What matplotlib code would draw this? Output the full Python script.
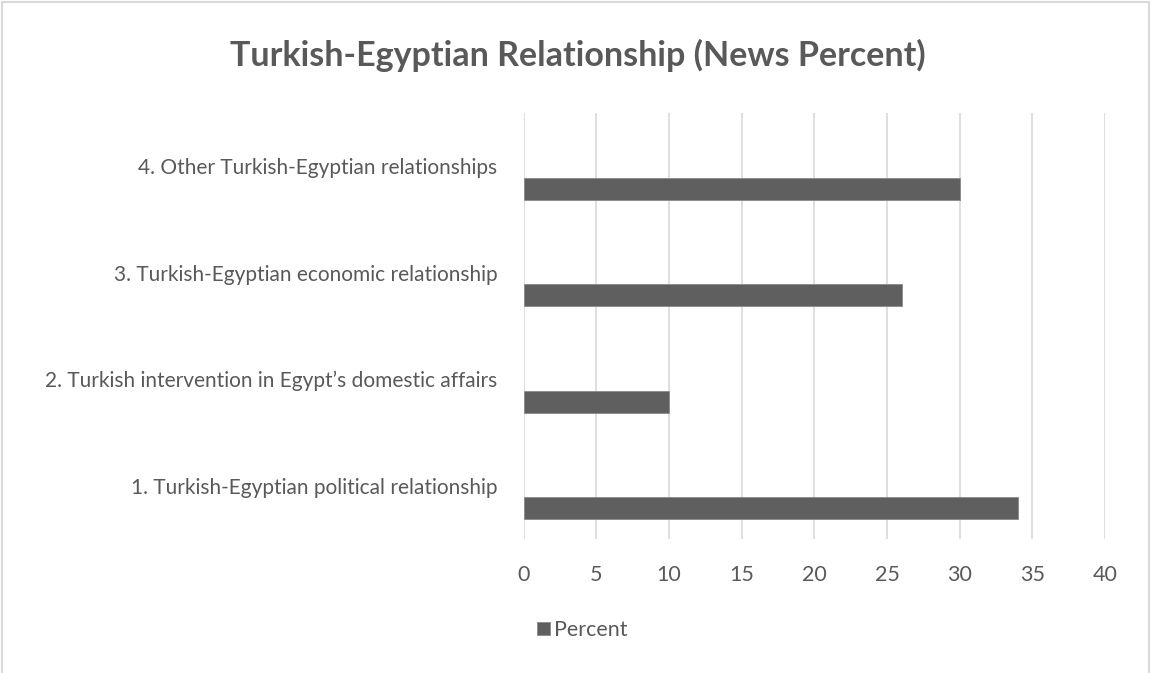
import numpy as np
import matplotlib.pyplot as plt
from matplotlib.patches import Rectangle

categories = [
    "1. Turkish-Egyptian political relationship",
    "2. Turkish intervention in Egypt\u2019s domestic affairs",
    "3. Turkish-Egyptian economic relationship",
    "4. Other Turkish-Egyptian relationships",
]
percent = [34, 10, 26, 30]
x_ticks = [0, 5, 10, 15, 20, 25, 30, 35, 40]

plt.rcParams['font.family'] = ['Lato', 'DejaVu Sans']
text_color = "#595959"
bar_color = "#5f5f5f"
grid_color = "#d9d9d9"

fig = plt.figure(figsize=(11.51, 6.73), dpi=100)
ax = fig.add_axes([0.455, 0.199, 0.505, 0.633])

y = np.arange(len(categories))
ax.barh(y - 0.21, percent, height=0.207, color=bar_color, edgecolor="#8a8a8a",
        linewidth=0.6, zorder=3, label="Percent")

ax.set_xlim(0, 40)
ax.set_ylim(-0.5, len(categories) - 0.5)
ax.set_xticks(x_ticks)
ax.set_yticks(y)
ax.set_yticklabels(categories)
ax.tick_params(axis="both", length=0, colors=text_color)
ax.tick_params(axis="y", pad=19, labelsize=15)
ax.tick_params(axis="x", pad=19, labelsize=15.5)
ax.grid(axis="x", color=grid_color, linewidth=1.2, zorder=0)
for s in ax.spines.values():
    s.set_visible(False)

fig.text(0.502, 0.917, "Turkish-Egyptian Relationship (News Percent)",
         ha="center", va="center", fontsize=24.5, fontweight="bold", color=text_color)

leg = fig.legend(loc="center", bbox_to_anchor=(0.506, 1 - 630 / 673), frameon=False,
                 fontsize=15.5, handlelength=0.6, handleheight=0.6, handletextpad=0.2)
for t in leg.get_texts():
    t.set_color(text_color)

# chart border
fig.patches.append(Rectangle((0.002, -0.01), 0.996, 1.007, transform=fig.transFigure,
                             fill=False, edgecolor="#d9d9d9", linewidth=1.5))

plt.savefig("out.png", dpi=100)
